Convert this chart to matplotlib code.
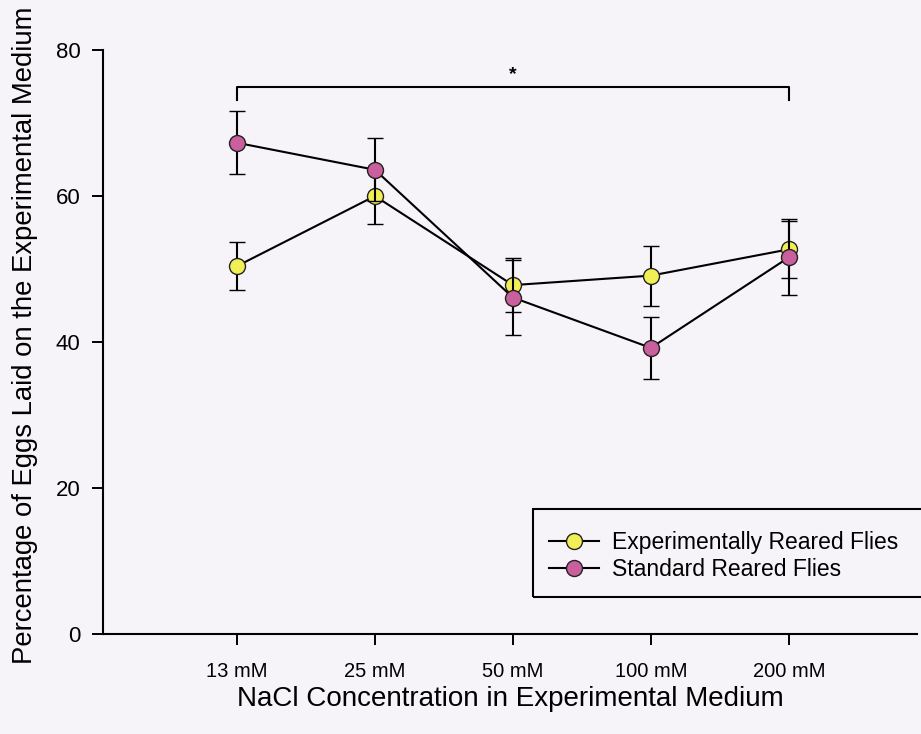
import matplotlib
matplotlib.use("Agg")
import matplotlib.pyplot as plt
from matplotlib.lines import Line2D
from matplotlib.patches import Rectangle
import numpy as np

plt.rcParams['font.family'] = ['Liberation Sans', 'DejaVu Sans']

# NaCl concentrations and mean egg percentages (+/- SE)
concentrations = ['13 mM', '25 mM', '50 mM', '100 mM', '200 mM']
exp_mean = [50.4, 60.0, 47.8, 49.1, 52.7]
exp_err = [3.3, 3.8, 3.7, 4.1, 3.9]
std_mean = [67.3, 63.6, 46.1, 39.2, 51.6]
std_err = [4.3, 4.3, 5.1, 4.2, 5.2]

# significance bracket between 13 mM and 200 mM
bracket_top = 74.9
bracket_foot = 73.2
star_y = 76.6

exp_col = '#f2ee55'
std_col = '#c95f9c'
bg = '#f6f3f9'

fig = plt.figure(figsize=(9.21, 7.34), dpi=100, facecolor=bg)
ax = fig.add_axes([0.1118, 0.1362, 0.884, 0.7956], facecolor=bg)

x = np.arange(1, len(concentrations) + 1)

style = dict(color='black', lw=1.5, capsize=6, capthick=1.5, elinewidth=1.5,
             marker='o', ms=11.5, mec='#222222', mew=1.0)
ax.errorbar(x, exp_mean, yerr=exp_err, mfc=exp_col, zorder=3, **style)
ax.errorbar(x, std_mean, yerr=std_err, mfc=std_col, zorder=4, **style)

ax.plot([x[0], x[0], x[-1], x[-1]],
        [bracket_foot, bracket_top, bracket_top, bracket_foot],
        color='black', lw=1.5)
ax.text((x[0] + x[-1]) / 2, star_y, '*', ha='center', va='center',
        fontsize=14, fontweight='bold')

ax.set_xlim(0.029, 5.93)
ax.set_ylim(0, 80)
ax.set_xticks(x)
ax.set_xticklabels(concentrations)
ax.set_yticks([0, 20, 40, 60, 80])

for s in ['top', 'right']:
    ax.spines[s].set_visible(False)
for s in ['left', 'bottom']:
    ax.spines[s].set_linewidth(1.5)
ax.tick_params(direction='out', length=8, width=1.4)
ax.tick_params(axis='x', labelsize=14.5, pad=12)
ax.tick_params(axis='y', labelsize=16, pad=8)

ax.set_xlabel('NaCl Concentration in Experimental Medium', fontsize=20,
              labelpad=4)
ax.set_ylabel('Percentage of Eggs Laid on the Experimental Medium',
              fontsize=19.8, labelpad=13)
ax.yaxis.label.set_y(0.512)

# legend box runs off the right edge of the figure
fig.patches.append(Rectangle((533 / 921, 137 / 734), 0.45, 88 / 734,
                             transform=fig.transFigure, fill=False,
                             edgecolor='black', lw=1.5, zorder=5))

handles = [
    Line2D([], [], color='black', lw=1.5, marker='o', ms=11.5,
           mfc=exp_col, mec='#222222', mew=1.0),
    Line2D([], [], color='black', lw=1.5, marker='o', ms=11.5,
           mfc=std_col, mec='#222222', mew=1.0),
]
labels = ['Experimentally Reared Flies', 'Standard Reared Flies']
leg = ax.legend(handles, labels, loc='center left',
                bbox_to_anchor=(549 / 921, 178 / 734),
                bbox_transform=fig.transFigure, frameon=False,
                fontsize=16.5, handlelength=2.2, borderpad=0,
                labelspacing=0.15, handletextpad=0.55, borderaxespad=0)

fig.savefig('out.png', dpi=100, facecolor=bg)
